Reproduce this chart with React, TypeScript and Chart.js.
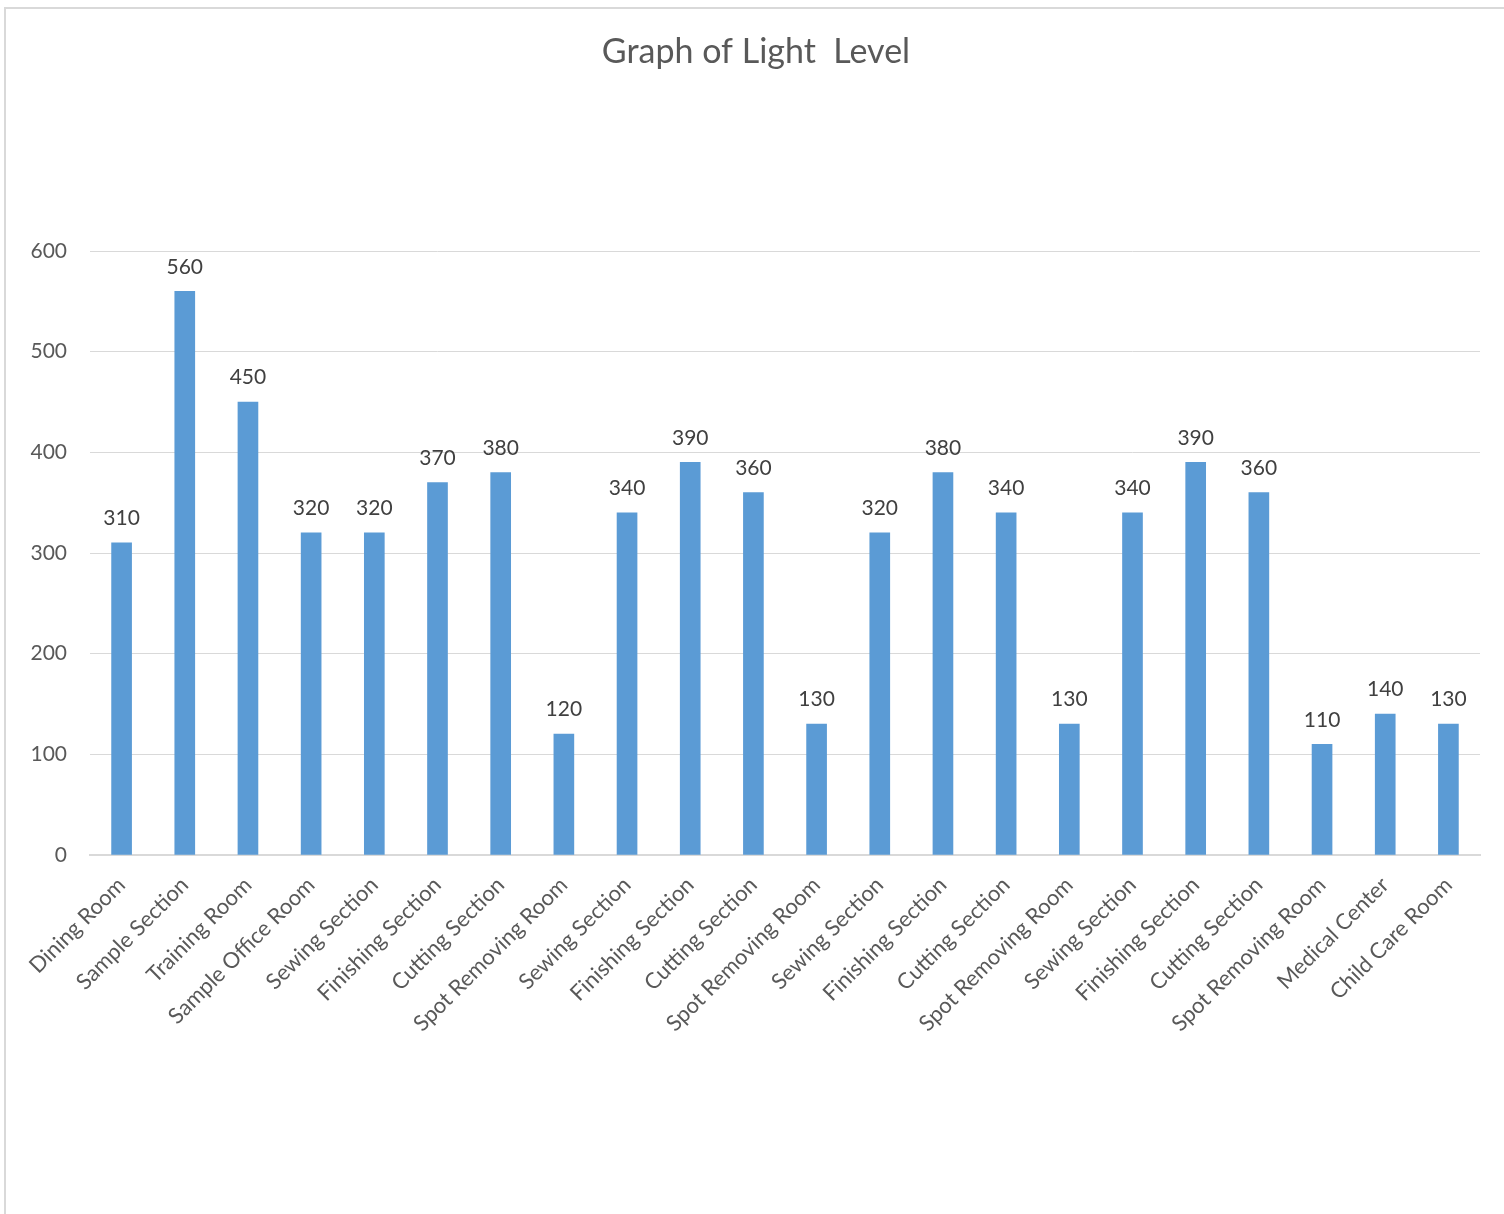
import React, { useEffect, useRef } from "react";
import { Chart, registerables } from "chart.js";

Chart.register(...registerables);

const categories = [
  "Dining Room",
  "Sample Section",
  "Training Room",
  "Sample Office Room",
  "Sewing Section",
  "Finishing Section",
  "Cutting Section",
  "Spot Removing Room",
  "Sewing Section",
  "Finishing Section",
  "Cutting Section",
  "Spot Removing Room",
  "Sewing Section",
  "Finishing Section",
  "Cutting Section",
  "Spot Removing Room",
  "Sewing Section",
  "Finishing Section",
  "Cutting Section",
  "Spot Removing Room",
  "Medical Center",
  "Child Care Room",
];

const lightLevels = [
  310, 560, 450, 320, 320, 370, 380, 120, 340, 390, 360, 130, 320, 380, 340,
  130, 340, 390, 360, 110, 140, 130,
];

const titleText = "Graph of Light  Level";
const yMin = 0;
const yMax = 600;
const yStep = 100;

const FONT = "Lato, 'Open Sans', sans-serif";

const framePlugin = {
  id: "frame",
  beforeDraw(chart: any) {
    const ctx = chart.ctx;
    ctx.save();
    ctx.fillStyle = "#ffffff";
    ctx.fillRect(0, 0, chart.width, chart.height);
    ctx.fillStyle = "#d9d9d9";
    ctx.fillRect(4, 7, chart.width - 4, 2);
    ctx.fillRect(4, 7, 2, chart.height - 7);
    // title
    ctx.font = `34px ${FONT}`;
    ctx.fillStyle = "#595959";
    ctx.textAlign = "center";
    ctx.textBaseline = "middle";
    ctx.fillText(titleText, 756, 52);
    ctx.restore();
  },
};

const dataLabelPlugin = {
  id: "dataLabels",
  afterDatasetsDraw(chart: any) {
    const ctx = chart.ctx;
    const meta = chart.getDatasetMeta(0);
    const data = chart.data.datasets[0].data;
    ctx.save();
    ctx.font = `21px ${FONT}`;
    ctx.fillStyle = "#404040";
    ctx.textAlign = "center";
    ctx.textBaseline = "bottom";
    meta.data.forEach((bar: any, i: number) => {
      ctx.fillText(String(data[i]), bar.x, bar.y - 14);
    });
    ctx.restore();
  },
};

export default function App() {
  const canvasRef = useRef<HTMLCanvasElement | null>(null);

  useEffect(() => {
    if (!canvasRef.current) return;
    const chart = new Chart(canvasRef.current, {
      type: "bar",
      data: {
        labels: categories,
        datasets: [
          {
            label: "Light Level",
            data: lightLevels,
            backgroundColor: "#5B9BD5",
            barThickness: 20,
          },
        ],
      },
      options: {
        animation: false,
        responsive: false,
        devicePixelRatio: 1,
        layout: { padding: { left: 0, right: 24, top: 251, bottom: 0 } },
        plugins: {
          legend: { display: false },
          tooltip: { enabled: false },
          title: { display: false },
        },
        scales: {
          x: {
            grid: { display: false, drawTicks: false },
            border: { display: true, color: "#d9d9d9", width: 2 },
            ticks: {
              color: "#595959",
              font: { family: FONT, size: 22 },
              minRotation: 45,
              maxRotation: 45,
              autoSkip: false,
              padding: 17,
            },
            afterFit(scale: any) {
              scale.height = 1214 - 855;
            },
          },
          y: {
            min: yMin,
            max: yMax,
            grid: { color: "#d9d9d9", lineWidth: 1, drawTicks: false },
            border: { display: false },
            ticks: {
              stepSize: yStep,
              color: "#595959",
              font: { family: FONT, size: 21 },
              padding: 23,
            },
            afterFit(scale: any) {
              scale.width = 90;
            },
          },
        },
      },
      plugins: [framePlugin, dataLabelPlugin],
    });
    return () => chart.destroy();
  }, []);

  return (
    <div style={{ position: "absolute", left: 0, top: 0, width: 1504, height: 1214 }}>
      <canvas ref={canvasRef} width={1504} height={1214} style={{ width: 1504, height: 1214, display: "block" }} />
    </div>
  );
}
